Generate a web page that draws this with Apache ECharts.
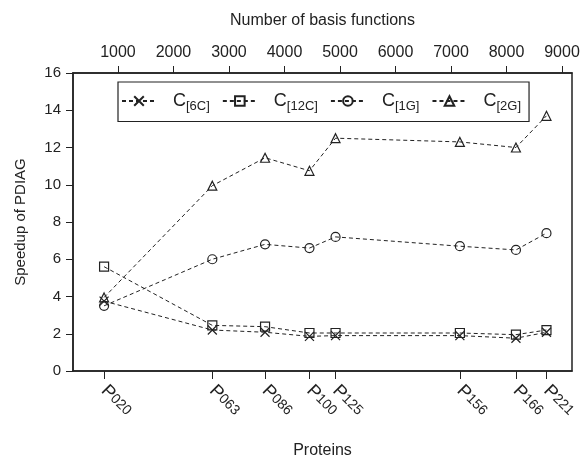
<!DOCTYPE html>
<html>
<head>
<meta charset="utf-8">
<script src="https://cdn.jsdelivr.net/npm/echarts@6/dist/echarts.min.js"></script>
<style>
  html, body { margin: 0; padding: 0; background: #fff; }
  #chart { width: 588px; height: 456px; }
</style>
</head>
<body>
<div id="chart"></div>
<script>
// protein ids and their number of basis functions (x position)
var proteins = ['020', '063', '086', '100', '125', '156', '166', '221']
var basisFunctions = [750, 2700, 3650, 4450, 4920, 7160, 8170, 8720]
var basisTicks = [1000, 2000, 3000, 4000, 5000, 6000, 7000, 8000, 9000]

// speedup values
var c6c = [3.75, 2.2, 2.08, 1.86, 1.9, 1.9, 1.76, 2.08]
var c12c = [5.6, 2.45, 2.38, 2.04, 2.04, 2.04, 1.95, 2.2]
var c1g = [3.5, 6.0, 6.8, 6.6, 7.2, 6.7, 6.5, 7.4]
var c2g = [3.95, 9.95, 11.45, 10.75, 12.5, 12.3, 12.0, 13.7]

var seriesNames = ['6C', '12C', '1G', '2G']
var seriesValues = [c6c, c12c, c1g, c2g]
var seriesSymbols = ['path://M0,0L10,10M10,0L0,10', 'rect', 'circle', 'triangle']

var ink = '#222'
var font = 'Liberation Sans, Arial, sans-serif'

function pairs(values) {
  return values.map(function (v, i) { return [basisFunctions[i], v] })
}

var chart = echarts.init(document.getElementById('chart'), null, { renderer: 'canvas' })

var series = seriesNames.map(function (name, k) {
  return {
    name: name,
    type: 'line',
    xAxisIndex: 0,
    data: pairs(seriesValues[k]),
    symbol: seriesSymbols[k],
    symbolSize: 9,
    showAllSymbol: true,
    animation: false,
    lineStyle: { color: ink, width: 1, type: [4, 3] },
    itemStyle: { color: 'rgba(0,0,0,0)', borderColor: ink, borderWidth: 1.2 },
    emphasis: { disabled: true }
  }
})

// bottom axes: one draws the "P", a second one the subscript number
function proteinAxis(extra) {
  var base = {
    type: 'value', position: 'bottom',
    min: 190, max: 9180,
    axisLine: { show: false },
    axisTick: { show: false },
    splitLine: { show: false }
  }
  return Object.assign(base, extra)
}

var option = {
  backgroundColor: '#fff',
  textStyle: { fontFamily: font, color: ink },
  grid: {
    left: 73, right: 16, top: 73, bottom: 85,
    outerBoundsMode: 'none',
    containLabel: false,
    show: true, borderColor: ink, borderWidth: 1.5
  },
  legend: {
    left: 118, top: 82,
    padding: [10, 8, 9, 3],
    itemGap: 12,
    itemWidth: 34,
    itemHeight: 12,
    borderColor: ink,
    borderWidth: 1.2,
    borderRadius: 0,
    data: seriesNames,
    formatter: function (name) { return '{m|C}{s|[' + name + ']}' },
    textStyle: {
      fontSize: 18,
      rich: {
        m: { fontSize: 18, color: ink, fontFamily: font, padding: [0, 0, 0, 12] },
        s: { fontSize: 13, color: ink, fontFamily: font, padding: [10, 0, 0, 0] }
      }
    }
  },
  xAxis: [
    proteinAxis({
      name: 'Proteins', nameLocation: 'middle', nameGap: 72,
      nameTextStyle: { fontSize: 16, color: ink },
      axisLine: { show: true, lineStyle: { color: ink, width: 1.5 } },
      axisTick: { show: true, length: 8, customValues: basisFunctions, lineStyle: { color: ink } },
      axisLabel: {
        customValues: basisFunctions,
        rotate: -45,
        margin: 17,
        fontSize: 18,
        color: ink,
        formatter: function () { return 'P' }
      }
    }),
    {
      type: 'value', position: 'top',
      min: 190, max: 9180,
      name: 'Number of basis functions', nameLocation: 'middle', nameGap: 44,
      nameTextStyle: { fontSize: 16, color: ink },
      axisLine: { show: true, lineStyle: { color: ink, width: 1.5 } },
      axisTick: { show: true, length: 7, customValues: basisTicks, lineStyle: { color: ink } },
      splitLine: { show: false },
      axisLabel: {
        customValues: basisTicks, fontSize: 16, color: ink, margin: 12,
        formatter: function (v) { return String(v) }
      }
    },
    proteinAxis({
      axisLabel: {
        customValues: basisFunctions,
        rotate: -45,
        margin: 17,
        fontSize: 14,
        color: ink,
        padding: [18, 0, 0, 12],
        formatter: function (value) { return proteins[basisFunctions.indexOf(value)] }
      }
    })
  ],
  yAxis: {
    type: 'value', min: 0, max: 16, interval: 2,
    name: 'Speedup of PDIAG', nameLocation: 'middle', nameGap: 45,
    nameTextStyle: { fontSize: 15, color: ink },
    axisLine: { show: true, lineStyle: { color: ink, width: 1.5 } },
    axisTick: { show: true, length: 7, lineStyle: { color: ink } },
    splitLine: { show: false },
    axisLabel: { fontSize: 15, color: ink, margin: 12 }
  },
  series: series
}

chart.setOption(option)
</script>
</body>
</html>
